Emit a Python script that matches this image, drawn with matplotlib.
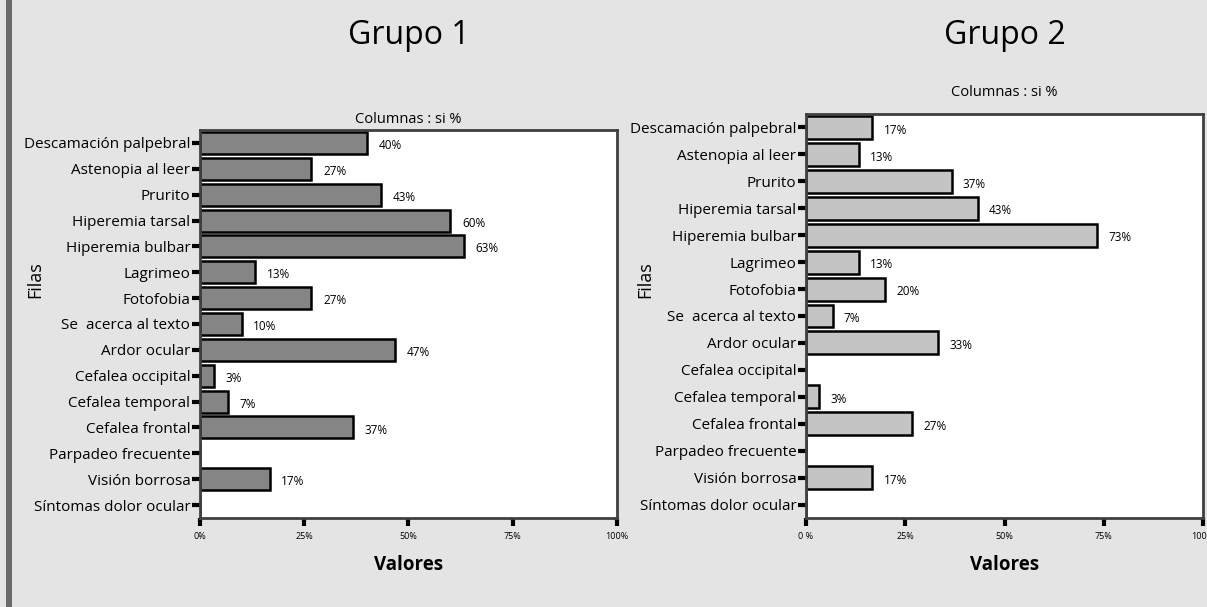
import matplotlib
matplotlib.use("Agg")
import matplotlib.pyplot as plt
from matplotlib.patches import Rectangle
import numpy as np

plt.rcParams['font.family'] = ['Open Sans', 'DejaVu Sans']

sintomas = ["Descamación palpebral", "Astenopia al leer", "Prurito", "Hiperemia tarsal",
            "Hiperemia bulbar", "Lagrimeo", "Fotofobia", "Se  acerca al texto",
            "Ardor ocular", "Cefalea occipital", "Cefalea temporal", "Cefalea frontal",
            "Parpadeo frecuente", "Visión borrosa", "Síntomas dolor ocular"]

grupo1 = [40, 26.7, 43.3, 60, 63.3, 13.3, 26.7, 10, 46.7, 3.3, 6.7, 36.7, 0, 16.7, 0]
grupo2 = [16.7, 13.3, 36.7, 43.3, 73.3, 13.3, 20, 6.7, 33.3, 0, 3.3, 26.7, 0, 16.7, 0]

xticks = [0, 25, 50, 75, 100]
xlabels1 = ["0%", "25%", "50%", "75%", "100%"]
xlabels2 = ["0 %", "25%", "50%", "75%", "100%"]

W, H = 1207, 607
fig = plt.figure(figsize=(W / 100, H / 100), dpi=100)
fig.patch.set_facecolor('#e4e4e4')
fig.patches.append(Rectangle((6 / W, 0), 6 / W, 1, transform=fig.transFigure,
                             facecolor='#6a6a6a', edgecolor='none'))


def panel(rect, vals, color, title, title_y, sub_y, xlabels, filas_x):
    ax = fig.add_axes(rect)
    y = np.arange(len(sintomas))
    ax.barh(y, vals, height=0.85, color=color, edgecolor='black', linewidth=1.8)
    ax.set_xlim(0, 100)
    ax.set_ylim(len(sintomas) - 0.5, -0.5)
    ax.set_yticks(y)
    ax.set_yticklabels(sintomas, fontsize=11)
    ax.set_xticks(xticks)
    ax.set_xticklabels(xlabels, fontsize=6.5)
    ax.tick_params(axis='y', length=6, width=3, pad=1)
    ax.tick_params(axis='x', length=6, width=3, pad=4)
    for s in ax.spines.values():
        s.set_color('#404040')
        s.set_linewidth(2)
    for yi, v in zip(y, vals):
        if v > 0:
            ax.text(v + 2.8, yi + 0.1, "{:.0f}%".format(v), fontsize=8.5, va='center', ha='left')
    ax.set_xlabel("Valores", fontsize=13.5, fontweight='bold', labelpad=10)
    fig.text(filas_x / W, 1 - 280 / H, "Filas", rotation=90, fontsize=13,
             ha='center', va='center')
    cx = rect[0] + rect[2] / 2
    fig.text(cx, 1 - title_y / H, title, fontsize=23, ha='center', va='center')
    fig.text(cx, 1 - sub_y / H, "Columnas : si %", fontsize=10.5, ha='center', va='center')
    return ax


panel([200 / W, 1 - 518 / H, 417 / W, 388 / H], grupo1, '#858585', "Grupo 1", 35, 120, xlabels1, 35)
panel([806 / W, 1 - 518 / H, 397 / W, 404 / H], grupo2, '#c4c4c4', "Grupo 2", 35, 92, xlabels2, 645)

fig.savefig("out.png", dpi=100, facecolor=fig.get_facecolor())
